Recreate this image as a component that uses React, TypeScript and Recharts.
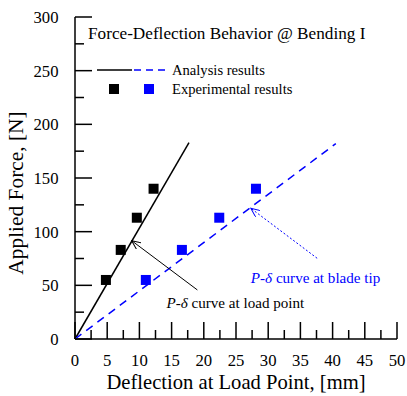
import React from 'react';
import {
  ComposedChart, Line, Scatter, XAxis, YAxis, ReferenceLine, ReferenceDot,
} from 'recharts';

// analysis curves (two end points each)
const loadPointCurveX = [0, 17.7];
const loadPointCurveY = [0, 183];
const bladeTipCurveX = [0, 40.5];
const bladeTipCurveY = [0, 182];

// experimental points
const expForce = [55, 83, 113, 140];
const expLoadPointX = [4.8, 7.1, 9.6, 12.2];
const expBladeTipX = [11, 16.6, 22.4, 28.1];

const xTicks = [0, 2.5, 5, 7.5, 10, 12.5, 15, 17.5, 20, 22.5, 25, 27.5, 30, 32.5, 35, 37.5, 40, 42.5, 45, 47.5, 50];
const yTicks = [0, 25, 50, 75, 100, 125, 150, 175, 200, 225, 250, 275, 300];

const FONT = '"Liberation Serif", "Times New Roman", serif';
const BLUE = '#0000ff';

const toPoints = (xs: number[], ys: number[]) => xs.map((x, i) => ({ x, y: ys[i] }));

const loadCurve = toPoints(loadPointCurveX, loadPointCurveY);
const tipCurve = toPoints(bladeTipCurveX, bladeTipCurveY);
const loadExp = toPoints(expLoadPointX, expForce);
const tipExp = toPoints(expBladeTipX, expForce);

const XTick = (props: any) => {
  const { x, y, payload } = props;
  const major = payload.value % 5 === 0;
  return (
    <g>
      <line x1={x} x2={x} y1={y} y2={y - (major ? 17 : 9)} stroke="#000" strokeWidth={1.5} />
      {major && (
        <text x={x} y={y + 26.5} textAnchor="middle" fontSize={16.7} fontFamily={FONT} fill="#000">
          {payload.value}
        </text>
      )}
    </g>
  );
};

const YTick = (props: any) => {
  const { x, y, payload } = props;
  const major = payload.value % 50 === 0;
  return (
    <g>
      <line x1={x} x2={x + (major ? 17 : 9)} y1={y} y2={y} stroke="#000" strokeWidth={1.5} />
      {major && (
        <text x={x - 16.5} y={y + 6} textAnchor="end" fontSize={16.7} fontFamily={FONT} fill="#000">
          {payload.value}
        </text>
      )}
    </g>
  );
};

const square = (color: string) => (p: any) => (
  <rect x={p.cx - 5} y={p.cy - 5} width={10} height={10} fill={color} />
);

const note = (label: string, color: string) => (p: any) => (
  <text x={p.cx} y={p.cy} fontSize={15.1} fontFamily={FONT} fill={color}>
    <tspan fontStyle="italic">P</tspan>-<tspan fontStyle="italic">δ</tspan> {label}
  </text>
);

function LegendBox() {
  return (
    <svg width={407} height={396} style={{ position: 'absolute', left: 0, top: 0, pointerEvents: 'none' }}>
      <text x={88} y={39} fontSize={17.2} fontFamily={FONT}>Force-Deflection Behavior @ Bending I</text>
      <line x1={97} x2={132} y1={70} y2={70} stroke="#000" strokeWidth={1.5} />
      <line x1={134} x2={166} y1={70} y2={70} stroke={BLUE} strokeWidth={1.5} strokeDasharray="7 5" />
      <text x={172} y={75} fontSize={14.6} fontFamily={FONT}>Analysis results</text>
      <rect x={109} y={84} width={10} height={10} fill="#000" />
      <rect x={144} y={84} width={10} height={10} fill={BLUE} />
      <text x={172} y={94} fontSize={14.6} fontFamily={FONT}>Experimental results</text>
    </svg>
  );
}

export default function App() {
  return (
    <div style={{ position: 'absolute', left: 0, top: 0, width: 407, height: 396, background: '#fff' }}>
      <ComposedChart width={407} height={396} margin={{ top: 17, right: 10, left: 0, bottom: 0 }}>
        <defs>
          <marker id="arrowBlack" markerWidth="10" markerHeight="8" refX="9" refY="4" orient="auto" markerUnits="userSpaceOnUse">
            <path d="M0,0 L9,4 L0,8" fill="none" stroke="#000" strokeWidth={1} />
          </marker>
          <marker id="arrowBlue" markerWidth="10" markerHeight="8" refX="9" refY="4" orient="auto" markerUnits="userSpaceOnUse">
            <path d="M0,0 L9,4 L0,8" fill="none" stroke={BLUE} strokeWidth={1} />
          </marker>
        </defs>
        <XAxis
          dataKey="x"
          type="number"
          domain={[0, 50]}
          ticks={xTicks}
          interval={0}
          tickSize={0}
          tickMargin={0}
          tickLine={false}
          tick={<XTick />}
          height={57}
          axisLine={{ stroke: '#000', strokeWidth: 1.5 }}
          label={{
            content: (p: any) => (
              <text x={p.viewBox.x + p.viewBox.width / 2} y={389} textAnchor="middle" fontSize={20.6} fontFamily={FONT}>
                Deflection at Load Point, [mm]
              </text>
            ),
          }}
        />
        <XAxis xAxisId="top" orientation="top" type="number" domain={[0, 50]} height={0} tick={false} tickLine={false} axisLine={{ stroke: '#000', strokeWidth: 1.5 }} />
        <YAxis
          dataKey="y"
          type="number"
          domain={[0, 300]}
          ticks={yTicks}
          interval={0}
          tickSize={0}
          tickMargin={0}
          tickLine={false}
          tick={<YTick />}
          width={75}
          axisLine={{ stroke: '#000', strokeWidth: 1.5 }}
          label={{
            content: () => (
              <text x={0} y={0} transform="translate(23,193) rotate(-90)" textAnchor="middle" fontSize={21.4} fontFamily={FONT}>
                Applied Force, [N]
              </text>
            ),
          }}
        />
        <YAxis yAxisId="right" orientation="right" type="number" domain={[0, 300]} width={0} tick={false} tickLine={false} axisLine={{ stroke: '#000', strokeWidth: 1.5 }} />

        <Line data={loadCurve} dataKey="y" stroke="#000" strokeWidth={1.5} dot={false} isAnimationActive={false} />
        <Line data={tipCurve} dataKey="y" stroke={BLUE} strokeWidth={1.5} strokeDasharray="8 6" dot={false} isAnimationActive={false} />
        <Scatter data={loadExp} dataKey="y" shape={square('#000')} isAnimationActive={false} />
        <Scatter data={tipExp} dataKey="y" shape={square(BLUE)} isAnimationActive={false} />

        <ReferenceLine segment={[{ x: 19, y: 45.7 }, { x: 8.8, y: 91.6 }]} stroke="#000" strokeWidth={1} markerEnd="url(#arrowBlack)" />
        <ReferenceLine segment={[{ x: 37.6, y: 75.2 }, { x: 27.3, y: 121.8 }]} stroke={BLUE} strokeWidth={1} strokeDasharray="2 2" markerEnd="url(#arrowBlue)" />
        <ReferenceDot x={14.2} y={28.9} r={0} shape={note('curve at load point', '#000')} />
        <ReferenceDot x={27.3} y={52.2} r={0} shape={note('curve at blade tip', BLUE)} />
      </ComposedChart>
      <LegendBox />
    </div>
  );
}
